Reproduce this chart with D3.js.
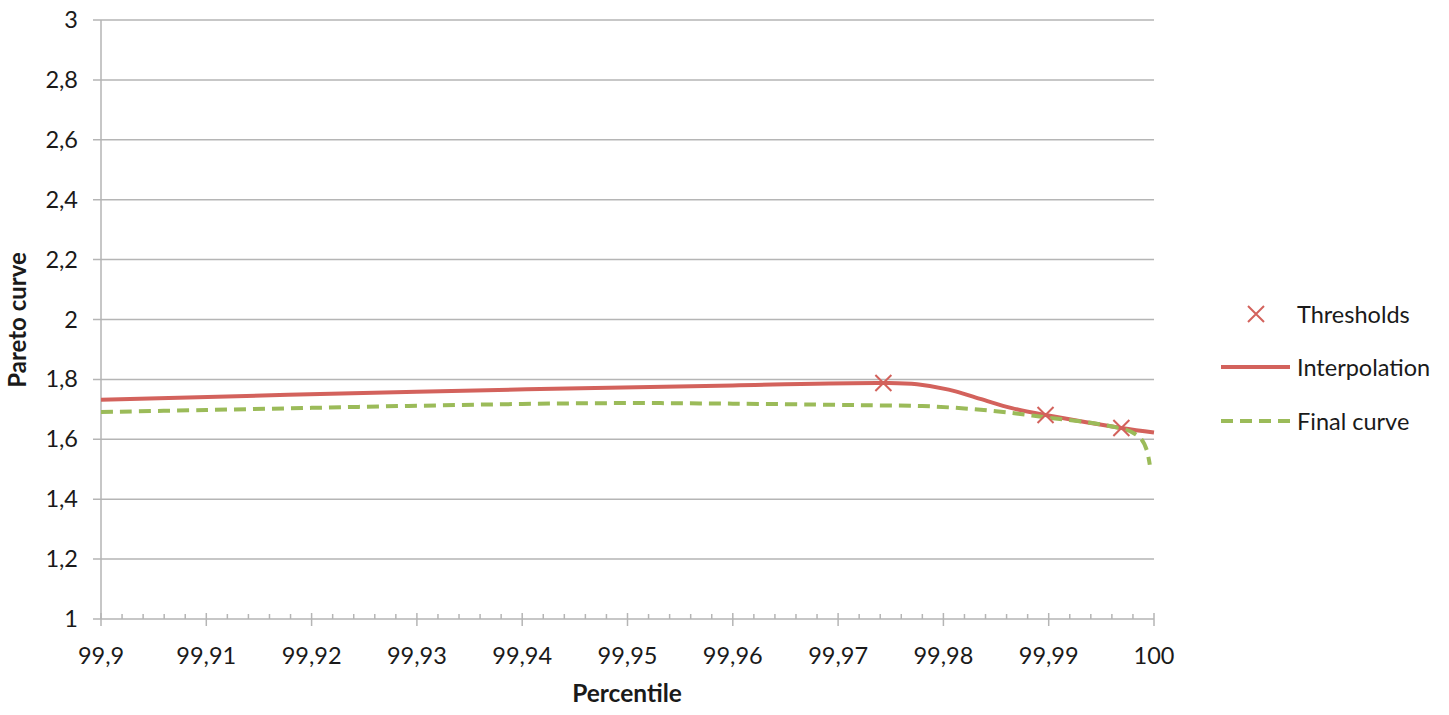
<!DOCTYPE html>
<html><head><meta charset="utf-8">
<script src="https://cdn.jsdelivr.net/npm/d3@7"></script>
<style>body{margin:0;background:#fff}svg{display:block}text{font-family:Lato,"Open Sans",sans-serif;fill:#1a1a1a}</style>
</head><body>
<svg id="c" width="1449" height="715"></svg>
<script>
const xTicks = [99.9, 99.91, 99.92, 99.93, 99.94, 99.95, 99.96, 99.97, 99.98, 99.99, 100];
const xTickLabels = ["99,9","99,91","99,92","99,93","99,94","99,95","99,96","99,97","99,98","99,99","100"];
const yTicks = [1, 1.2, 1.4, 1.6, 1.8, 2, 2.2, 2.4, 2.6, 2.8, 3];
const yTickLabels = ["1","1,2","1,4","1,6","1,8","2","2,2","2,4","2,6","2,8","3"];

const thresholdX = [99.9743, 99.9897, 99.9969];
const thresholdY = [1.788, 1.681, 1.638];

const interpX = [99.9, 99.93, 99.96, 99.9743, 99.9775, 99.9805, 99.9835, 99.9865, 99.9897, 99.9969, 100];
const interpY = [1.732, 1.759, 1.780, 1.788, 1.784, 1.766, 1.735, 1.704, 1.681, 1.638, 1.623];

const finalX = [99.9, 99.91, 99.92, 99.93, 99.94, 99.95, 99.96, 99.97, 99.974, 99.978, 99.982, 99.986, 99.99, 99.994, 99.997, 99.998, 99.9988, 99.9993, 99.9996];
const finalY = [1.691, 1.698, 1.705, 1.712, 1.718, 1.721, 1.719, 1.715, 1.713, 1.711, 1.703, 1.690, 1.672, 1.655, 1.635, 1.622, 1.600, 1.565, 1.515];

const seriesNames = ["Thresholds", "Interpolation", "Final curve"];
const red = "#d3625c", green = "#9bbb59", grid = "#b5b5b5";

const svg = d3.select("#c");
const x = d3.scaleLinear().domain([99.9, 100]).range([101, 1154]);
const y = d3.scaleLinear().domain([1, 3]).range([619, 20]);

// gridlines
svg.append("g").selectAll("line").data(yTicks).join("line")
  .attr("x1", 93).attr("x2", 1154)
  .attr("y1", d => y(d)).attr("y2", d => y(d))
  .attr("stroke", grid).attr("stroke-width", 1.5);

// y axis line
svg.append("line").attr("x1", 101).attr("x2", 101).attr("y1", y(3)).attr("y2", y(1))
  .attr("stroke", grid).attr("stroke-width", 1.5);

// x minor / major ticks
const minor = d3.range(0, 51).map(i => 99.9 + i * 0.002);
svg.append("g").selectAll("line").data(minor).join("line")
  .attr("x1", d => x(d)).attr("x2", d => x(d))
  .attr("y1", (d, i) => i % 5 === 0 ? 613 : 614).attr("y2", (d, i) => i % 5 === 0 ? 626 : 619)
  .attr("stroke", grid).attr("stroke-width", 1.5);

// y tick labels
svg.append("g").selectAll("text").data(yTicks).join("text")
  .attr("x", 78).attr("y", d => y(d) + 8).attr("text-anchor", "end")
  .attr("font-size", 23.5).text((d, i) => yTickLabels[i]);

// x tick labels
svg.append("g").selectAll("text").data(xTicks).join("text")
  .attr("x", d => x(d)).attr("y", 664).attr("text-anchor", "middle")
  .attr("font-size", 23.5).text((d, i) => xTickLabels[i]);

// axis titles
svg.append("text").attr("x", 627).attr("y", 702).attr("text-anchor", "middle")
  .attr("font-size", 24.5).attr("font-weight", "bold").text("Percentile");
svg.append("text").attr("transform", "translate(26,320) rotate(-90)").attr("text-anchor", "middle")
  .attr("font-size", 24).attr("font-weight", "bold").text("Pareto curve");

// lines
const line = d3.line().x(d => x(d[0])).y(d => y(d[1])).curve(d3.curveCatmullRom.alpha(0.5));
svg.append("path").datum(interpX.map((v, i) => [v, interpY[i]]))
  .attr("d", line).attr("fill", "none").attr("stroke", red).attr("stroke-width", 4);
svg.append("path").datum(finalX.map((v, i) => [v, finalY[i]]))
  .attr("d", line).attr("fill", "none").attr("stroke", green).attr("stroke-width", 4)
  .attr("stroke-dasharray", "12,7");

// threshold markers
const cross = (g, cx, cy, s) => {
  g.append("path").attr("d", `M${cx - s},${cy - s}L${cx + s},${cy + s}M${cx - s},${cy + s}L${cx + s},${cy - s}`)
    .attr("stroke", red).attr("stroke-width", 2).attr("fill", "none");
};
const mk = svg.append("g");
thresholdX.forEach((v, i) => cross(mk, x(v), y(thresholdY[i]), 8));

// legend
const lg = svg.append("g");
cross(lg, 1256, 314, 8);
lg.append("line").attr("x1", 1221).attr("x2", 1290).attr("y1", 367).attr("y2", 367)
  .attr("stroke", red).attr("stroke-width", 4);
lg.append("line").attr("x1", 1221).attr("x2", 1290).attr("y1", 421).attr("y2", 421)
  .attr("stroke", green).attr("stroke-width", 4).attr("stroke-dasharray", "12,7");
[314, 367, 421].forEach((yy, i) => {
  lg.append("text").attr("x", 1297).attr("y", yy + 9).attr("font-size", 23.5).text(seriesNames[i]);
});
</script>
</body></html>
